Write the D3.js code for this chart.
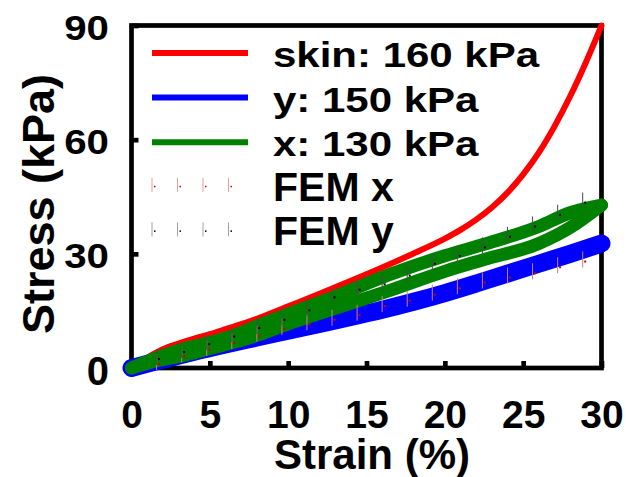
<!DOCTYPE html>
<html>
<head>
<meta charset="utf-8">
<script src="https://cdn.jsdelivr.net/npm/d3@7"></script>
<style>
  body { margin: 0; background: #fff; }
  text { font-family: "Liberation Sans", Arial, sans-serif; font-weight: bold; fill: #000; }
</style>
</head>
<body>
<svg id="chart"></svg>
<script>
// axis ticks
const strainTicks = [0, 5, 10, 15, 20, 25, 30];
const stressTicks = [0, 30, 60, 90];

// skin curve
const skinStrain = [0, 1, 2, 3, 4, 5, 6, 8, 10, 12, 14, 16, 18, 20, 21, 22, 23, 24, 25, 26, 27, 28, 29, 30];
const skinStress = [0, 2.7, 4.9, 6.4, 7.7, 8.9, 10.2, 12.9, 16.2, 19.5, 22.9, 26.4, 30.1, 34.0, 36.3, 39.0, 42.2, 46.1, 50.9, 56.6, 63.5, 71.4, 80.3, 90];

// y direction
const yStrain = [0, 2, 4, 6, 8, 10, 12, 14, 16, 18, 20, 22, 24, 26, 28, 30];
const yStress = [0, 2.2, 4.3, 6.2, 8.0, 9.8, 11.6, 13.4, 15.3, 17.4, 19.7, 22.2, 24.8, 27.4, 30.0, 32.7];

// x direction, loading and unloading branches
const xStrain = [0, 1.65, 3.25, 4.9, 6.5, 8, 10, 13, 16.5, 20, 22.5, 26, 28, 30];
const xUpper = [0, 2.7, 4.9, 6.6, 8.5, 11.0, 14.2, 18.8, 24.6, 29.5, 32.5, 37.2, 40.8, 42.8];
const xLower = [0, 1.9, 3.2, 5.0, 6.7, 8.6, 11.6, 15.7, 20.4, 25.4, 28.5, 32.7, 36.9, 42.8];

// FEM points
const femStrain = [1.6, 3.2, 4.8, 6.4, 8, 9.6, 11.2, 12.8, 14.4, 16, 17.6, 19.2, 20.8, 22.4, 24, 25.6, 27.2, 28.8];
const femX = [1.6, 3.6, 5.3, 7.1, 9, 10.8, 12, 13.2, 14.5, 16.8, 18.2, 19.8, 21.5, 23, 24.3, 25.4, 27, 28.5];
const femY = [2.9, 4.7, 6.8, 8.8, 11, 13.2, 15.7, 19.1, 21.1, 22.5, 24.8, 27.9, 30, 32.2, 35, 37.7, 40.8, 44];

const legendLabels = ["skin: 160 kPa", "y: 150 kPa", "x: 130 kPa", "FEM x", "FEM y"];

const W = 626, H = 477;
const svg = d3.select("#chart").attr("width", W).attr("height", H);

const x = d3.scaleLinear().domain([0, 30]).range([131.5, 601.5]);
const y = d3.scaleLinear().domain([0, 90]).range([368, 25.5]);

// frame
svg.append("rect")
  .attr("x", x(0)).attr("y", y(90))
  .attr("width", x(30) - x(0)).attr("height", y(0) - y(90))
  .attr("fill", "none").attr("stroke", "#000").attr("stroke-width", 4.7);

// x axis
const xAxis = svg.append("g")
  .attr("transform", `translate(0,${y(0)})`)
  .call(d3.axisBottom(x).tickValues(strainTicks).tickSizeInner(-7).tickSizeOuter(0));
xAxis.select(".domain").remove();
xAxis.selectAll(".tick line").attr("stroke", "#000").attr("stroke-width", 4.7);
xAxis.selectAll(".tick text")
  .attr("y", 60).attr("dy", 0)
  .style("font-size", "39px");

// y axis
const yAxis = svg.append("g")
  .attr("transform", `translate(${x(0)},0)`)
  .call(d3.axisLeft(y).tickValues(stressTicks).tickSizeInner(-7).tickSizeOuter(0));
yAxis.select(".domain").remove();
yAxis.selectAll(".tick line").attr("stroke", "#000").attr("stroke-width", 4.7);
yAxis.selectAll(".tick text")
  .attr("x", 0).attr("dy", 0)
  .attr("y", d => d === 0 ? 16 : 14)
  .style("font-size", d => d === 0 ? "40px" : "35px")
  .attr("transform", d => `translate(${109 - x(0)},0) scale(${d === 0 ? 1 : 1.15},1)`);

// axis titles
svg.append("text")
  .attr("x", 372).attr("y", 469)
  .attr("text-anchor", "middle")
  .style("font-size", "42px")
  .text("Strain (%)");

svg.append("text")
  .attr("transform", "translate(54,204) rotate(-90)")
  .attr("text-anchor", "middle")
  .style("font-size", "45px")
  .text("Stress (kPa)");

// curves
const line = d3.line()
  .x(d => x(d[0]))
  .y(d => y(d[1]))
  .curve(d3.curveMonotoneX);

function drawCurve(xs, ys, color, width) {
  svg.append("path")
    .datum(xs.map((v, i) => [v, ys[i]]))
    .attr("d", line)
    .attr("fill", "none")
    .attr("stroke", color)
    .attr("stroke-width", width)
    .attr("stroke-linecap", "round")
    .attr("stroke-linejoin", "round");
}

drawCurve(skinStrain, skinStress, "#ff0000", 6);
drawCurve(yStrain, yStress, "#0000ff", 18);
drawCurve(xStrain, xUpper, "#008000", 13);
drawCurve(xStrain, xLower, "#008000", 13);

// FEM markers: thin error bars with a tiny dot
function drawFem(vals, lineColor, dotColor) {
  const g = svg.append("g");
  g.selectAll("line")
    .data(femStrain)
    .enter()
    .append("line")
    .attr("x1", d => x(d)).attr("x2", d => x(d))
    .attr("y1", (d, i) => y(vals[i]) - 8)
    .attr("y2", (d, i) => y(vals[i]) + 8)
    .attr("stroke", lineColor)
    .attr("stroke-width", 1);
  g.selectAll("rect")
    .data(femStrain)
    .enter()
    .append("rect")
    .attr("x", d => x(d) + 1.5)
    .attr("y", (d, i) => y(vals[i]) + 1)
    .attr("width", 2).attr("height", 2)
    .attr("fill", dotColor);
}

drawFem(femX, "#c98080", "#d00000");
drawFem(femY, "#4a4a4a", "#000");

// legend
const legendStyle = [
  { color: "#ff0000", size: 35, sx: 1.2 },
  { color: "#0000ff", size: 35, sx: 1.2 },
  { color: "#008000", size: 35, sx: 1.2 },
  { color: "#d9a0a0", dot: "#d00000", size: 41, sx: 1 },
  { color: "#a0a0a0", dot: "#000", size: 41, sx: 1 }
];
const legendTop = 67, legendStep = 44.6;

legendLabels.forEach((label, i) => {
  const base = legendTop + i * legendStep;
  const st = legendStyle[i];
  if (i < 3) {
    svg.append("line")
      .attr("x1", 152).attr("x2", 248)
      .attr("y1", base - 14).attr("y2", base - 14)
      .attr("stroke", st.color).attr("stroke-width", 6);
  } else {
    [152, 177.5, 203, 228.5].forEach(mx => {
      svg.append("line")
        .attr("x1", mx).attr("x2", mx)
        .attr("y1", base - 23).attr("y2", base - 9)
        .attr("stroke", st.color).attr("stroke-width", 1);
      svg.append("rect")
        .attr("x", mx + 2).attr("y", base - 15)
        .attr("width", 1.5).attr("height", 1.5)
        .attr("fill", st.dot);
    });
  }
  svg.append("text")
    .attr("transform", `translate(273,${base}) scale(${st.sx},1)`)
    .style("font-size", st.size + "px")
    .text(label);
});
</script>
</body>
</html>
